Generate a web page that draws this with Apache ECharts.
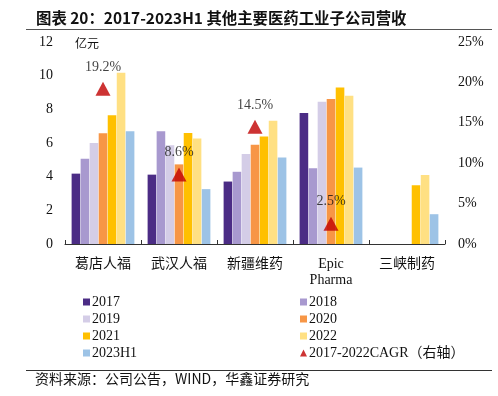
<!DOCTYPE html>
<html><head><meta charset="utf-8">
<script src="https://cdn.jsdelivr.net/npm/echarts@6/dist/echarts.min.js"></script>
<style>html,body{margin:0;padding:0;background:#fff}#c{width:498px;height:396px}</style>
</head><body><div id="c"></div>
<script>
var categories = ['葛店人福', '武汉人福', '新疆维药', 'Epic\nPharma', '三峡制药'];
var s2017 = [4.18, 4.12, 3.71, 7.78, null];
var s2018 = [5.07, 6.70, 4.29, 4.50, null];
var s2019 = [6.00, 5.86, 5.34, 8.45, null];
var s2020 = [6.58, 4.73, 5.89, 8.61, null];
var s2021 = [7.65, 6.60, 6.39, 9.30, 3.49];
var s2022 = [10.17, 6.26, 7.32, 8.80, 4.10];
var s2023H1 = [6.70, 3.26, 5.14, 4.54, 1.77];
var cagr = [19.2, 8.6, 14.5, 2.5, null];
var leftTicks = [0, 2, 4, 6, 8, 10, 12];
var rightTicks = ['0%', '5%', '10%', '15%', '20%', '25%'];

var serif = '"Liberation Serif", "Times New Roman", serif';
var cjk = '"Noto Sans CJK SC", sans-serif';
var colors = ['#4B2C85', '#A899CF', '#D4CDE7', '#F79646', '#FFC000', '#FFE083', '#9DC3E6'];
var names = ['2017', '2018', '2019', '2020', '2021', '2022', '2023H1'];
var data = [s2017, s2018, s2019, s2020, s2021, s2022, s2023H1];

var series = names.map(function (n, i) {
  return {
    name: n, type: 'bar', data: data[i], barWidth: 8.6, barGap: '5%',
    itemStyle: { color: colors[i] }
  };
});
series.push({
  name: '2017-2022CAGR（右轴）', type: 'scatter', yAxisIndex: 1, data: cagr,
  symbol: 'triangle', symbolSize: [15, 14], itemStyle: { color: '#C00000' },
  label: { show: true, position: 'top', distance: 8, color: '#111', fontFamily: serif, fontSize: 14,
    formatter: function (p) { return p.value.toFixed(1) + '%'; } }
});

var chart = echarts.init(document.getElementById('c'));
chart.setOption({
  animation: false,
  grid: { left: 65, right: 53, top: 42, bottom: 152, containLabel: false },
  xAxis: {
    type: 'category', data: categories,
    axisLine: { lineStyle: { color: '#333', width: 1 } },
    axisTick: { show: true, inside: true, length: 4, lineStyle: { color: '#333' } },
    axisLabel: { color: '#111', fontFamily: serif + ', ' + cjk, fontSize: 14, margin: 12, lineHeight: 16 }
  },
  yAxis: [{
    type: 'value', min: 0, max: 12, interval: 2,
    axisLine: { show: false }, axisTick: { show: false }, splitLine: { show: false },
    axisLabel: { color: '#111', fontFamily: serif, fontSize: 14, margin: 12,
      formatter: function (v) { return leftTicks.indexOf(v) >= 0 ? String(v) : ''; } }
  }, {
    type: 'value', min: 0, max: 25, interval: 5,
    axisLine: { show: false }, axisTick: { show: false }, splitLine: { show: false },
    axisLabel: { color: '#111', fontFamily: serif, fontSize: 14, margin: 13,
      formatter: function (v) { return rightTicks[v / 5]; } }
  }],
  legend: [{
    orient: 'vertical', left: 78, top: 290, itemWidth: 7, itemHeight: 7, itemGap: 3,
    icon: 'rect', data: ['2017', '2019', '2021', '2023H1'],
    textStyle: { fontFamily: serif, fontSize: 14, color: '#111', lineHeight: 14, padding: [0, 0, 0, -3] }
  }, {
    orient: 'vertical', left: 295, top: 290, itemWidth: 7, itemHeight: 7, itemGap: 3,
    data: [{ name: '2018', icon: 'rect' }, { name: '2020', icon: 'rect' }, { name: '2022', icon: 'rect' },
      { name: '2017-2022CAGR（右轴）', icon: 'triangle' }],
    textStyle: { fontFamily: serif + ', ' + cjk, fontSize: 14, color: '#111', lineHeight: 14, padding: [0, 0, 0, -3] }
  }],
  graphic: [
    { type: 'text', left: 36, top: 10, style: { text: '图表 20：2017-2023H1 其他主要医药工业子公司营收', font: 'bold 15.4px "Noto Sans CJK SC", sans-serif', fill: '#111' } },
    { type: 'line', shape: { x1: 26, y1: 29.5, x2: 492, y2: 29.5 }, style: { stroke: '#555', lineWidth: 1 } },
    { type: 'text', left: 75, top: 37, style: { text: '亿元', font: '12px "Noto Sans CJK SC", sans-serif', fill: '#111' } },
    { type: 'line', shape: { x1: 26, y1: 370.5, x2: 492, y2: 370.5 }, style: { stroke: '#333', lineWidth: 1 } },
    { type: 'text', left: 35, top: 372, style: { text: '资料来源：公司公告，WIND，华鑫证券研究', font: '14px "Noto Sans CJK SC", sans-serif', fill: '#111' } }
  ],
  series: series
});
</script></body></html>
